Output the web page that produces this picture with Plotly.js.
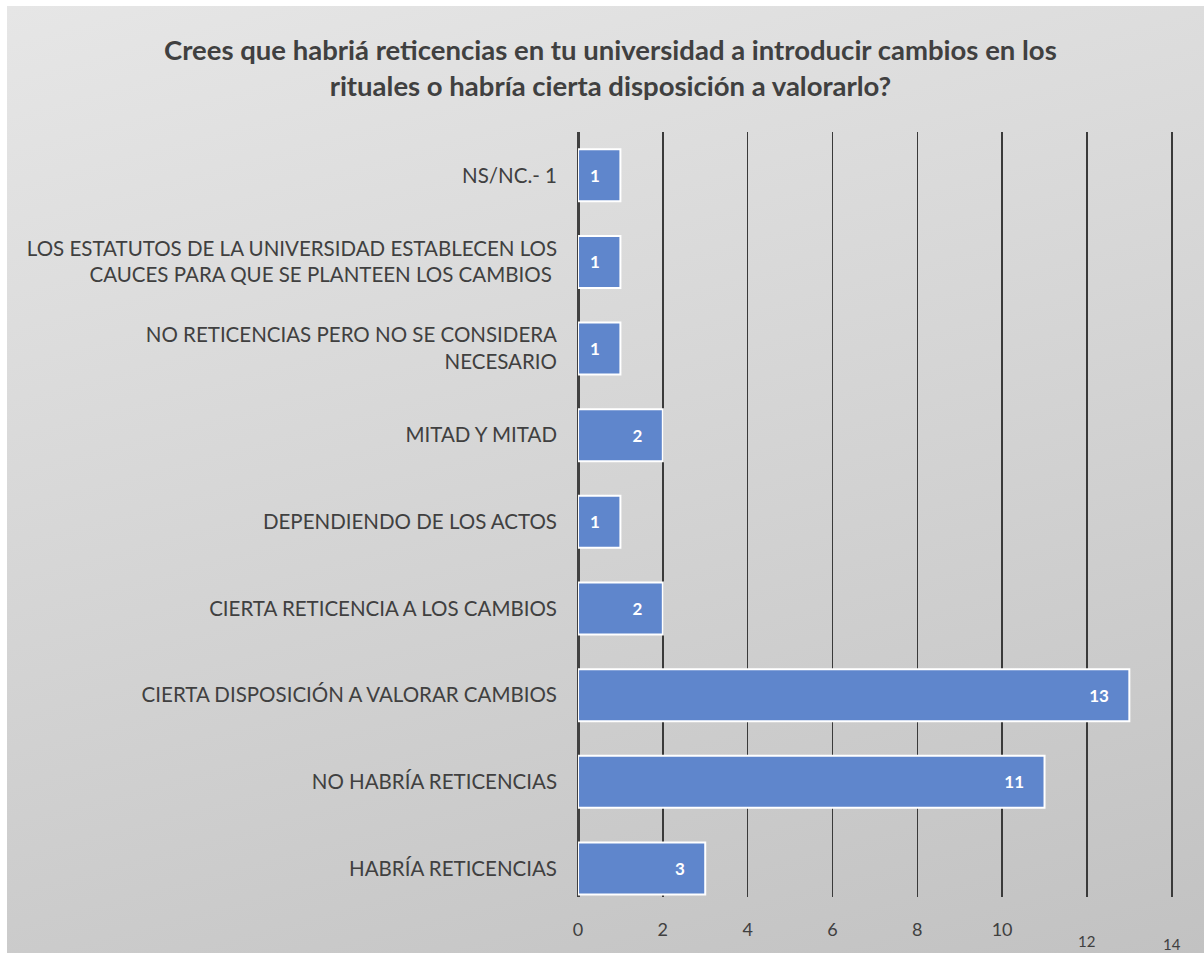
<!DOCTYPE html>
<html>
<head>
<meta charset="utf-8">
<script src="https://cdn.plot.ly/plotly-3.0.1.min.js"></script>
<style>
  html, body { margin: 0; padding: 0; background: #ffffff; }
  #bg { position: absolute; left: 7px; top: 6px; width: 1197px; height: 947px;
        background: linear-gradient(165deg, #e6e6e6 0%, #d6d6d6 45%, #c2c2c2 100%); }
  #chart { position: absolute; left: 0; top: 0; width: 1204px; height: 953px; }
</style>
</head>
<body>
<div id="bg"></div>
<div id="chart"></div>
<script>
// Categories, top to bottom as shown
var categories = [
  "NS/NC.- 1",
  "LOS ESTATUTOS DE LA UNIVERSIDAD ESTABLECEN LOS<br>CAUCES PARA QUE SE PLANTEEN LOS CAMBIOS ",
  "NO RETICENCIAS PERO NO SE CONSIDERA<br>NECESARIO",
  "MITAD Y MITAD",
  "DEPENDIENDO DE LOS ACTOS",
  "CIERTA RETICENCIA A LOS CAMBIOS",
  "CIERTA DISPOSICIÓN A VALORAR CAMBIOS",
  "NO HABRÍA RETICENCIAS",
  "HABRÍA RETICENCIAS"
];
var values = [1, 1, 1, 2, 1, 2, 13, 11, 3];
var xTickVals = [0, 2, 4, 6, 8, 10, 12, 14];
var xTickText = ["0", "2", "4", "6", "8", "10", "", ""];
var lowTicks = [12, 14];
var titleText = "Crees que habriá reticencias en tu universidad a introducir cambios en los<br>rituales o habría cierta disposición a valorarlo?";

var trace = {
  type: "bar",
  orientation: "h",
  y: categories,
  x: values,
  marker: { color: "#5f86cc", line: { color: "#ffffff", width: 2 } },
  text: values.map(function (v) { return String(v); }),
  texttemplate: "<b>%{text}</b>\u00a0\u00a0\u00a0\u00a0",
  textposition: "inside",
  insidetextanchor: "end",
  textangle: 0,
  constraintext: "none",
  insidetextfont: { color: "#ffffff", size: 17, family: "Lato, sans-serif" },
  hoverinfo: "none",
  cliponaxis: false
};

var annotations = lowTicks.map(function (v, i) {
  return {
    x: v, xref: "x", y: 0, yref: "paper", yshift: -55 - 3 * i,
    text: String(v), showarrow: false,
    font: { family: "Lato, sans-serif", size: 15, color: "#404040" }
  };
});

var layout = {
  width: 1204, height: 953,
  paper_bgcolor: "rgba(0,0,0,0)",
  plot_bgcolor: "rgba(0,0,0,0)",
  margin: { l: 578, r: 28, t: 132, b: 56 },
  bargap: 0.4,
  showlegend: false,
  title: {
    text: titleText,
    x: 0.507, xanchor: "center",
    y: 1 - 60 / 953, yref: "container", yanchor: "top",
    font: { family: "Lato, sans-serif", size: 27.5, color: "#404040", weight: "bold" }
  },
  xaxis: {
    range: [0, 14.1],
    tickvals: xTickVals,
    ticktext: xTickText,
    showgrid: true,
    gridcolor: "#3a3a3a",
    gridwidth: 1.5,
    zeroline: true,
    zerolinecolor: "#404040",
    zerolinewidth: 3,
    showline: false,
    ticks: "",
    ticklabelstandoff: 20,
    tickfont: { family: "Lato, sans-serif", size: 18, color: "#404040" },
    fixedrange: true
  },
  yaxis: {
    type: "category",
    range: [8.33, -0.5],
    showgrid: false,
    zeroline: false,
    showline: false,
    ticks: "",
    ticklabelstandoff: 20,
    tickfont: { family: "Lato, sans-serif", size: 20.5, color: "#404040" },
    fixedrange: true
  },
  annotations: annotations
};

Plotly.newPlot("chart", [trace], layout, { displayModeBar: false, staticPlot: true });
</script>
</body>
</html>
